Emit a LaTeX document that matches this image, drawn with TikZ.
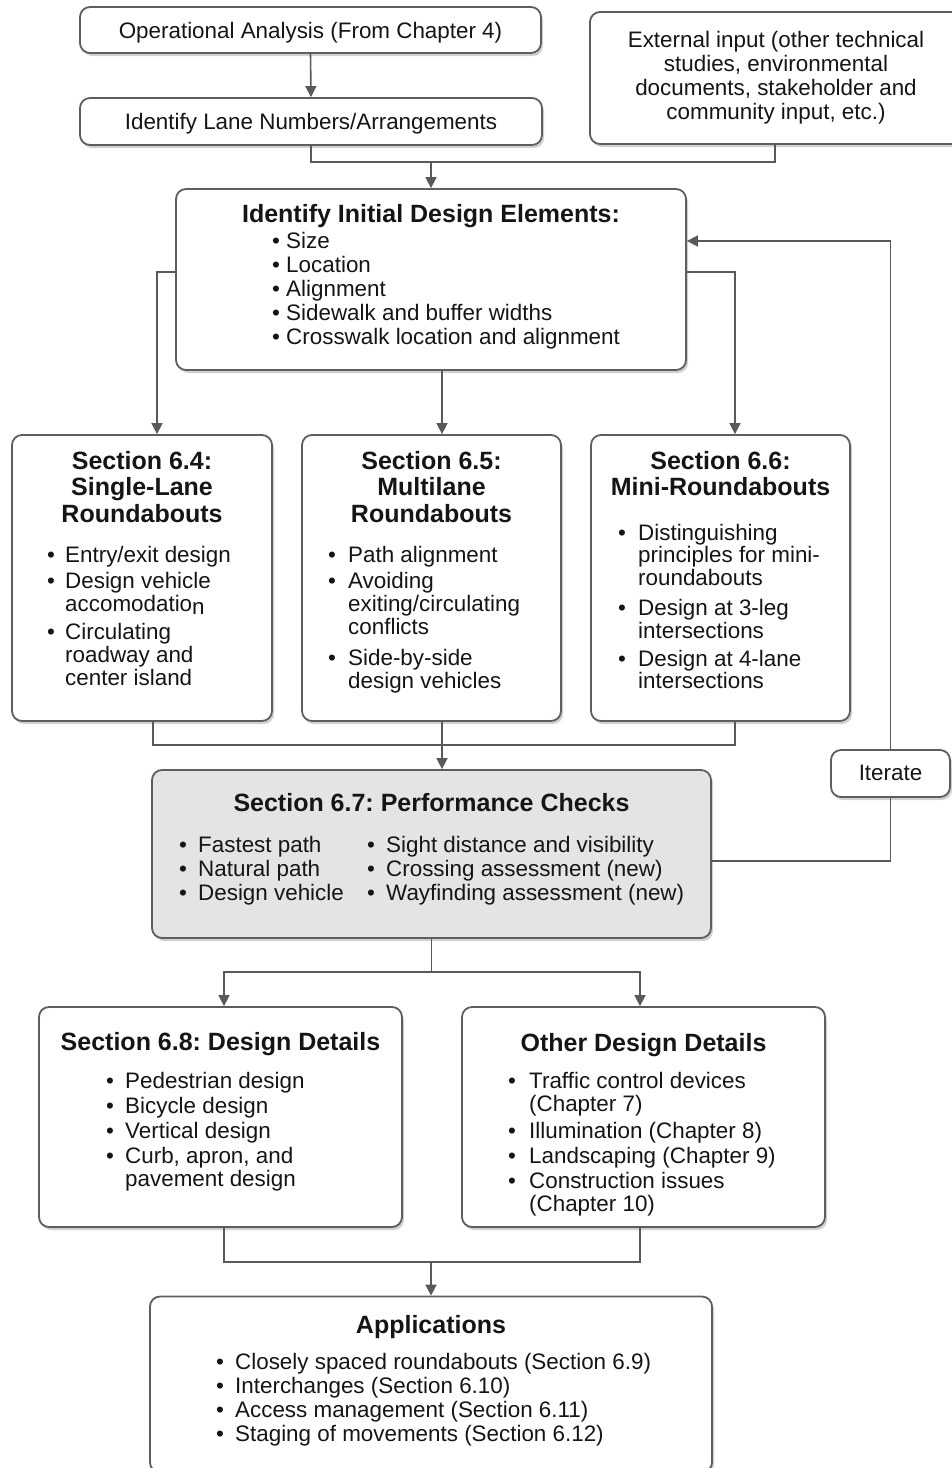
\documentclass[tikz,border=0pt]{standalone}
\usepackage{fontspec}
\setmainfont{Liberation Sans}
\usetikzlibrary{arrows.meta,shadows}
\definecolor{ln}{HTML}{595959}
\definecolor{bx}{HTML}{5E5E5E}
\definecolor{gf}{HTML}{E4E4E4}
\definecolor{tx}{HTML}{151515}
\frenchspacing
\newcommand\bodyf{\fontsize{22.4}{22}\selectfont}
\newcommand\bodyg{\fontsize{22.4}{24}\selectfont}
\newcommand\titf{\fontsize{25}{26.5}\selectfont\bfseries}
\newlength\bw
\setlength\bw{19pt}
\newcommand\bu{\makebox[\bw][l]{•}}
\newcommand\bc{\makebox[\bw][l]{}}
\newcommand\tl[1]{\begin{tabular}[t]{@{}l@{}}#1\end{tabular}}
\newcommand\tc[1]{\begin{tabular}[t]{@{}c@{}}#1\end{tabular}}
\tikzset{
  box/.style={draw=bx, line width=1.8pt, rounded corners=10pt, fill=white, inner sep=0pt,
    drop shadow={shadow xshift=2pt, shadow yshift=-3pt, opacity=0.18, fill=black}},
  txt/.style={inner sep=0pt, text=tx},
  line/.style={draw=ln, line width=1.6pt},
  arr/.style={line, -{Triangle[length=11pt,width=11pt]}}
}
\begin{document}
\begin{tikzpicture}[x=1pt,y=-1pt]
\useasboundingbox (0,0) rectangle (951,1468);
\fill[white] (0,0) rectangle (951,1468);

% boxes
\node[box, minimum width=461pt, minimum height=46pt] (op) at (310.5,30) {};
\node[box, minimum width=462pt, minimum height=47pt] (lane) at (311,121.5) {};
\node[box, minimum width=378pt, minimum height=132pt] (ext) at (779,78) {};
\node[box, minimum width=510pt, minimum height=181pt] (init) at (431,279.5) {};
\node[box, minimum width=260pt, minimum height=286pt] (s64) at (142,578) {};
\node[box, minimum width=259pt, minimum height=286pt] (s65) at (431.5,578) {};
\node[box, minimum width=259pt, minimum height=286pt] (s66) at (720.5,578) {};
\node[box, minimum width=119pt, minimum height=47pt] (iter) at (890.5,773.5) {};
\node[box, fill=gf, minimum width=559pt, minimum height=168pt] (s67) at (431.5,854) {};
\node[box, minimum width=363pt, minimum height=220pt] (s68) at (220.5,1117) {};
\node[box, minimum width=363pt, minimum height=220pt] (oth) at (643.5,1117) {};
\node[box, minimum width=562pt, minimum height=176pt] (app) at (431,1384.5) {};

% texts
\node[txt, anchor=base, font=\bodyf] (opt) at (310.5,38.5) {Operational Analysis (From Chapter 4)};
\node[txt, anchor=base, font=\bodyf] (lanet) at (311,129.5) {Identify Lane Numbers/Arrangements};
\node[txt, anchor=base, font=\bodyg] (extt) at (776,47) {\tc{External input (other technical\\ studies, environmental\\ documents, stakeholder and\\ community input, etc.)}};
\node[txt, anchor=base] (initt) at (431,222) {\titf Identify Initial Design Elements:};
\node[txt, anchor=base west, font=\bodyg] (initb) at (272,248) {\tl{• Size\\ • Location\\ • Alignment\\ • Sidewalk and buffer widths\\ • Crosswalk location and alignment}};

\node[txt, anchor=base] (s64t) at (142,469) {\titf\tc{Section 6.4:\\ Single-Lane\\ Roundabouts}};
\node[txt, anchor=base west, font=\bodyf] (s64b) at (47,562) {\setlength\bw{18pt}\tl{\bu Entry/exit design\\[4pt] \bu Design vehicle\\ \bc accomodatio\raisebox{-3pt}{n}\\[5pt] \bu Circulating\\ \bc roadway and\\ \bc center island}};

\node[txt, anchor=base] (s65t) at (431.5,469) {\titf\tc{Section 6.5:\\ Multilane\\ Roundabouts}};
\node[txt, anchor=base west, font=\bodyf] (s65b) at (328,562) {\setlength\bw{20pt}\tl{\bu Path alignment\\[4pt] \bu Avoiding\\ \bc exiting/circulating\\ \bc conflicts\\[8pt] \bu Side-by-side\\ \bc design vehicles}};

\node[txt, anchor=base] (s66t) at (720.5,469) {\titf\tc{Section 6.6:\\ Mini-Roundabouts}};
\node[txt, anchor=base west, font=\bodyf] (s66b) at (618,540) {\setlength\bw{20pt}\tl{\bu Distinguishing\\ \bc principles for mini-\\ \bc roundabouts\\[7pt] \bu Design at 3-leg\\ \bc intersections\\[5pt] \bu Design at 4-lane\\ \bc intersections}};

\node[txt, anchor=base, font=\bodyf] (itt) at (890.5,780.5) {Iterate};

\node[txt, anchor=base] (s67t) at (431.5,811) {\titf Section 6.7: Performance Checks};
\node[txt, anchor=base west, font=\bodyg] (s67a) at (179,852) {\tl{\bu Fastest path\\ \bu Natural path\\ \bu Design vehicle}};
\node[txt, anchor=base west, font=\bodyg] (s67c) at (367,852) {\tl{\bu Sight distance and visibility\\ \bu Crossing assessment (new)\\ \bu Wayfinding assessment (new)}};

\node[txt, anchor=base] (s68t) at (220.5,1050) {\titf Section 6.8: Design Details};
\node[txt, anchor=base west, font=\bodyf] (s68b) at (106,1088) {\tl{\bu Pedestrian design\\[3pt] \bu Bicycle design\\[2pt] \bu Vertical design\\[2pt] \bu Curb, apron, and\\ \bc pavement design}};

\node[txt, anchor=base] (otht) at (643.5,1051) {\titf Other Design Details};
\node[txt, anchor=base west, font=\bodyf] (othb) at (508,1088) {\setlength\bw{21pt}\tl{\bu Traffic control devices\\[1pt] \bc (Chapter 7)\\[4pt] \bu Illumination (Chapter 8)\\[2pt] \bu Landscaping (Chapter 9)\\[2pt] \bu Construction issues\\ \bc (Chapter 10)}};

\node[txt, anchor=base] (appt) at (431,1333) {\titf Applications};
\node[txt, anchor=base west, font=\bodyg] (appb) at (216,1369) {\tl{\bu Closely spaced roundabouts (Section 6.9)\\ \bu Interchanges (Section 6.10)\\ \bu Access management (Section 6.11)\\ \bu Staging of movements (Section 6.12)}};

% junctions
\coordinate (j1) at (431,162);
\coordinate (j2) at (442,745);
\coordinate (j3) at (431.5,972);
\coordinate (j4) at (431,1262);

% connectors
\draw[arr] (op.south) -- (lane.north);
\draw[line] (lane.south) |- (j1) -| ([xshift=-4pt]ext.south);
\draw[arr] (j1) -- (init.north);
\draw[arr] ([yshift=7.5pt]init.west) -| ([xshift=15pt]s64.north);
\draw[arr] ([xshift=11pt]init.south) -- ([xshift=10.5pt]s65.north);
\draw[arr] ([yshift=7.5pt]init.east) -| ([xshift=14.5pt]s66.north);
\draw[arr] (iter.north) |- ([yshift=38.5pt]init.east);
\draw[line] (iter.south) |- ([yshift=-7pt]s67.east);
\draw[line] ([xshift=11pt]s64.south) |- (j2) -| ([xshift=14.5pt]s66.south);
\draw[line] ([xshift=10.5pt]s65.south) -- (j2);
\draw[arr] (j2) -- ([xshift=10.5pt]s67.north);
\draw[line] (s67.south) -- (j3);
\draw[arr] (j3) -| ([xshift=3.5pt]s68.north);
\draw[arr] (j3) -| ([xshift=-3.5pt]oth.north);
\draw[line] ([xshift=3.5pt]s68.south) |- (j4) -| ([xshift=-3.5pt]oth.south);
\draw[arr] (j4) -- (app.north);
\end{tikzpicture}
\end{document}
